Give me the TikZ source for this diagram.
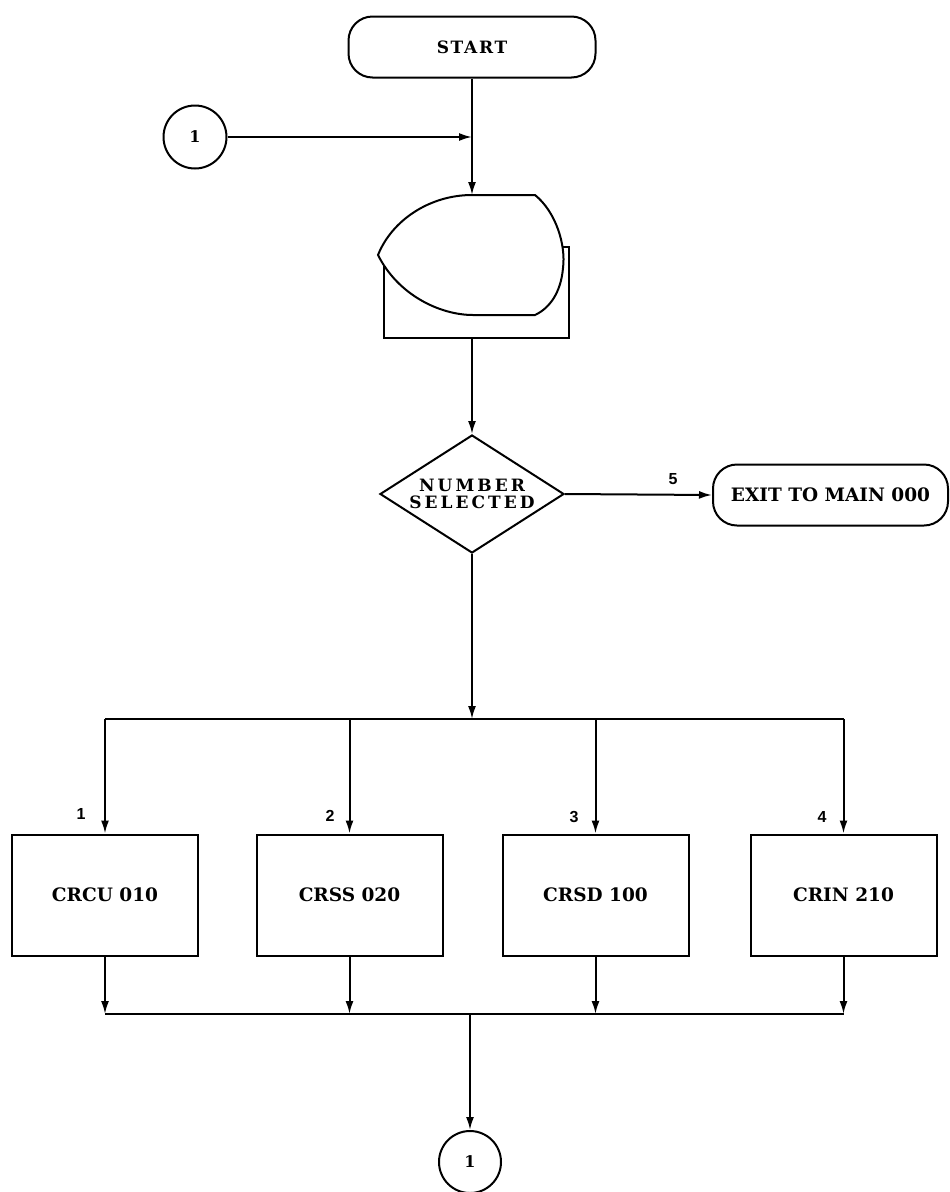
\documentclass[tikz,border=0pt]{standalone}
\usepackage{fontspec}
\setmainfont{DejaVu Serif}
\newfontfamily\labfont{Liberation Sans}
\newfontfamily\wideserif[LetterSpace=18]{DejaVu Serif}
\newfontfamily\startfont[LetterSpace=10]{DejaVu Serif}
\usetikzlibrary{shapes.geometric,arrows.meta}

\begin{document}
\begin{tikzpicture}[x=1pt,y=-1pt,
  line width=2pt,
  every node/.style={inner sep=0pt},
  termbox/.style={draw, rounded corners=24pt, minimum height=61pt},
  procbox/.style={draw, rectangle, minimum width=186pt, minimum height=121pt,
    font=\bfseries\fontsize{18.5}{21}\selectfont},
  connector/.style={draw, circle, minimum size=63pt,
    font=\bfseries\fontsize{16}{18}\selectfont},
  decbox/.style={draw, diamond, aspect=1.56, minimum width=184pt, minimum height=118pt,
    align=center, font=\wideserif\bfseries\fontsize{17}{17}\selectfont},
  numlabel/.style={font=\labfont\bfseries\fontsize{16}{18}\selectfont},
  arr/.style={-{Latex[length=13pt,width=8pt]}},
]
\useasboundingbox (0,0) rectangle (950,1192);
\fill[white] (0,0) rectangle (950,1192);

% terminals
\node[termbox, minimum width=247pt, font=\startfont\bfseries\fontsize{17}{20}\selectfont] (start) at (472,47) {START};
\node[termbox, minimum width=235pt, font=\bfseries\fontsize{18.5}{22}\selectfont] (exit) at (830.5,495) {EXIT TO MAIN 000};

% connectors
\node[connector] (c1top) at (195,137) {1};
\node[connector, minimum size=62pt] (c1bot) at (470,1162) {1};

% display symbol
\node[draw, rectangle, minimum width=185pt, minimum height=91pt] (disp) at (476.5,292.5) {};
\filldraw[fill=white] (472,195) -- (535,195)
  .. controls (556,212) and (566,245) .. (563,268)
  .. controls (561,292) and (550,308) .. (535,315)
  -- (473,315)
  .. controls (440,315) and (398,295) .. (378,255)
  .. controls (392,220) and (430,195) .. (472,195) -- cycle;
\coordinate (disptop) at (472,195);
\coordinate (dispbot) at (472,338);
\coordinate (j1) at (472,137);

% decision
\node[decbox] (dec) at (472,494) {NUMBER\\SELECTED};
\node[numlabel] (l5) at (673,479) {5};

% process boxes
\node[procbox] (p1) at (105,895) {CRCU 010};
\node[procbox] (p2) at (349.5,895) {CRSS 020};
\node[procbox] (p3) at (595.5,895) {CRSD 100};
\node[procbox] (p4) at (843.5,895) {CRIN 210};

\node[numlabel] (l1) at (81,814) {1};
\node[numlabel] (l2) at (330,816) {2};
\node[numlabel] (l3) at (574,817) {3};
\node[numlabel] (l4) at (822,817) {4};

\coordinate (b1) at (472,719);
\coordinate (b2) at (470,1014);

% flow lines
\draw (start.south) -- (j1);
\draw[arr] (c1top.east) -- (j1);
\draw[arr] (j1) -- (disptop);
\draw[arr] (dispbot) -- (dec.north);
\draw[arr] (dec.east) -- (exit.west);
\draw[arr] (dec.south) -- (b1);
\draw (p1.north |- b1) -- (p4.north |- b1);
\foreach \p in {p1,p2,p3,p4}{
  \draw[arr] (\p.north |- b1) -- (\p.north);
  \draw[arr] (\p.south) -- (\p.south |- b2);
}
\draw (p1.south |- b2) -- (p4.south |- b2);
\draw[arr] (b2) -- (c1bot.north);
\end{tikzpicture}
\end{document}
